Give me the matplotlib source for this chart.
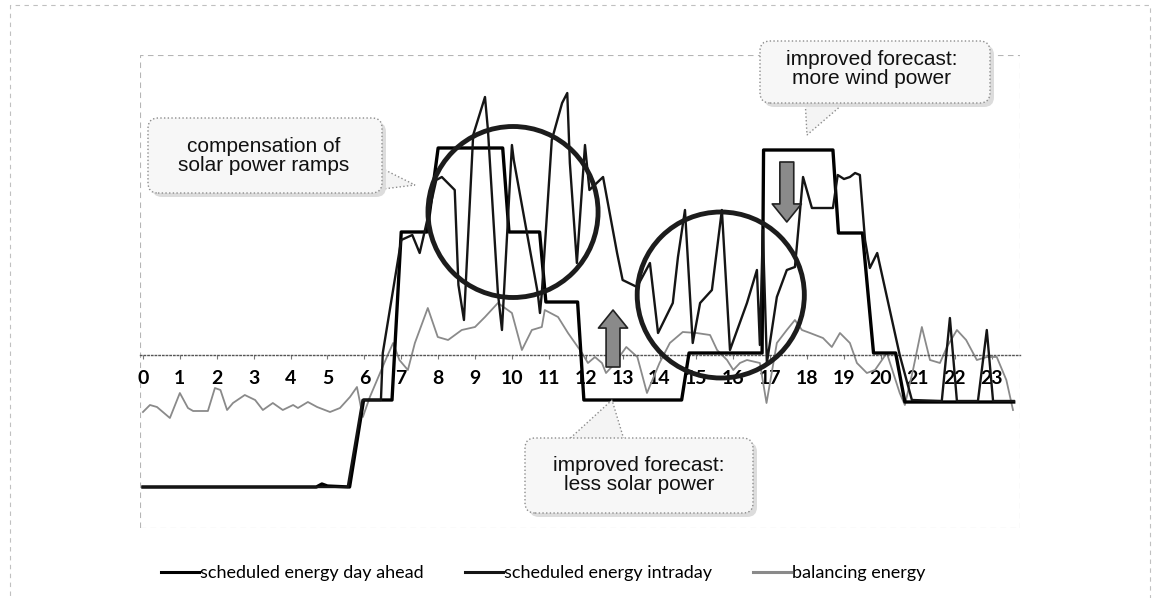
import matplotlib
matplotlib.use("Agg")
import matplotlib.pyplot as plt
from matplotlib.patches import Ellipse, FancyBboxPatch, FancyArrowPatch, Polygon, Rectangle
from matplotlib.transforms import IdentityTransform

# hour axis
hours = list(range(24))
hour_labels = [str(h) for h in hours]

# scheduled energy day ahead (hour, value)
day_ahead_t = [0, 4.7, 4.85, 5.0, 5.6, 5.98, 6.75, 7.0, 7.7, 8.0, 9.75, 9.92,
               10.75, 10.92, 11.78, 11.95, 14.6, 14.8, 16.78, 16.82, 18.7,
               18.85, 19.5, 19.8, 20.4, 20.65, 23.6]
day_ahead_v = [-13.2, -13.2, -12.9, -13.1, -13.2, -4.5, -4.5, 12.3, 12.3, 20.7,
               20.7, 12.3, 12.3, 5.3, 5.3, -4.5, -4.5, 0.2, 0.2, 20.5, 20.5,
               12.2, 12.2, 0.2, 0.2, -4.7, -4.7]

# scheduled energy intraday (hour, value)
intraday_t = [0, 5.55, 5.95, 6.45, 6.5, 7.0, 7.3, 7.5, 7.6, 7.95, 8.1, 8.45,
              8.55, 8.7, 8.95, 9.27, 9.35, 9.62, 9.73, 10.0, 10.05, 10.7,
              10.76, 10.81, 11.08, 11.36, 11.5, 11.57, 11.76, 11.98, 12.1,
              12.47, 12.6, 12.85, 13.0, 13.39, 13.74, 13.96, 14.36, 14.5,
              14.69, 14.9, 15.1, 15.42, 15.69, 15.91, 16.37, 16.64, 16.72,
              16.8, 16.91, 17.18, 17.45, 17.67, 17.72, 17.89, 18.13, 18.7,
              18.83, 19.0, 19.16, 19.3, 19.43, 19.57, 19.7, 19.9, 20.51,
              20.84, 21.65, 21.87, 22.06, 22.63, 22.87, 23.04, 23.6]
intraday_v = [-13.2, -13.2, -4.5, -4.5, 0.2, 11.5, 12.0, 10.2, 11.8, 17.5,
              17.8, 16.5, 7.0, 3.5, 22.0, 25.8, 22.5, 6.2, 2.5, 21.0, 19.5,
              6.2, 4.2, 6.2, 21.5, 25.2, 26.2, 19.2, 9.2, 21.0, 16.5, 17.8,
              15.2, 10.2, 7.5, 6.8, 9.2, 2.2, 5.2, 9.8, 14.5, 1.2, 5.2, 6.5,
              14.5, 0.5, 5.2, 8.5, 1.0, 12.5, -0.8, 5.8, 8.5, 8.8, 10.8, 17.8,
              14.7, 14.7, 18.0, 17.6, 17.8, 18.2, 18.0, 11.5, 8.7, 10.2, 0.0,
              -4.5, -4.6, 3.7, -4.6, -4.6, 2.5, -4.6, -4.6]

# balancing energy (hour, value)
balancing_t = [0.0, 0.19, 0.38, 0.73, 1.0, 1.22, 1.36, 1.76, 1.95, 2.1, 2.28,
               2.44, 2.76, 3.04, 3.25, 3.52, 3.79, 4.07, 4.2, 4.47, 4.72, 5.07,
               5.34, 5.61, 5.8, 5.96, 6.15, 6.61, 6.78, 6.95, 7.18, 7.37, 7.72,
               7.99, 8.27, 8.64, 9.0, 9.27, 9.62, 10.0, 10.27, 10.54, 10.81,
               10.89, 11.25, 11.52, 11.9, 12.06, 12.25, 12.44, 12.55, 12.75,
               13.1, 13.4, 13.66, 14.0, 14.28, 14.63, 15.0, 15.37, 15.56,
               15.83, 16.0, 16.18, 16.37, 16.72, 16.9, 17.18, 17.45, 17.67,
               17.86, 18.08, 18.43, 18.67, 18.89, 19.16, 19.35, 19.62, 19.84,
               20.16, 20.51, 20.65, 20.87, 21.11, 21.33, 21.6, 21.79, 22.06,
               22.31, 22.6, 22.87, 23.14, 23.4, 23.58]
balancing_v = [-5.7, -5.0, -5.2, -6.3, -3.8, -5.3, -5.6, -5.6, -3.3, -3.5,
               -5.5, -4.8, -4.0, -4.5, -5.5, -4.8, -5.5, -5.0, -5.3, -4.7,
               -5.2, -5.7, -5.3, -4.2, -3.2, -6.2, -4.2, -0.2, 1.2, -0.5, -1.5,
               1.2, 4.7, 1.8, 1.5, 2.5, 2.8, 3.8, 5.2, 4.2, 0.5, 2.5, 2.8, 4.5,
               3.8, 2.2, 0.2, -0.8, -0.2, -0.8, -1.8, -1.0, 0.8, -0.2, -3.8,
               -0.8, 1.2, 2.3, 2.2, 2.0, 0.5, -0.5, -1.5, -0.8, -0.5, -0.8,
               -4.8, 1.2, 2.5, 3.5, 2.5, 2.2, 1.7, 0.8, 2.2, 1.2, -0.8, -1.8,
               -1.5, 0.2, -3.8, -5.0, -1.5, 2.8, -0.5, -0.8, 0.8, 2.5, 1.5,
               -0.5, -0.2, -0.2, -2.5, -5.5]

series_labels = ["scheduled energy day ahead", "scheduled energy intraday",
                 "balancing energy"]

W, H = 1165, 598


def fx(x):
    return x / W


def fy(y):
    return 1 - y / H


def callout(fig, box, text, center, wedge):
    """rounded callout box in image pixel coords (y downwards)"""
    x0, y0, x1, y1 = box
    tr = IdentityTransform()
    pts = [(x, H - y) for x, y in wedge]
    fig.patches.append(Polygon(pts, closed=True, transform=tr, fc="#f4f4f4",
                               ec="#8c8c8c", lw=1.0, ls=":", zorder=8))
    fig.patches.append(FancyBboxPatch((x0 + 4, H - y1 - 4), x1 - x0, y1 - y0,
                                      boxstyle="round,pad=0,rounding_size=10",
                                      transform=tr, fc="#dcdcdc", ec="none",
                                      zorder=8))
    fig.patches.append(FancyBboxPatch((x0, H - y1), x1 - x0, y1 - y0,
                                      boxstyle="round,pad=0,rounding_size=10",
                                      transform=tr, fc="#f7f7f7", ec="#8c8c8c",
                                      lw=1.0, ls=":", zorder=9))
    fig.text(fx(center[0]), fy(center[1]), text, ha="center", va="center",
             fontsize=15, family="Liberation Sans", linespacing=1.05,
             color="#111111", zorder=10)


def main():
    fig = plt.figure(figsize=(W / 100, H / 100), dpi=100)
    ax = fig.add_axes([fx(140), fy(528), fx(1020) - fx(140), fy(55) - fy(528)])

    l3, = ax.plot(balancing_t, balancing_v, color="#8a8a8a", lw=1.3, zorder=2)
    l1, = ax.plot(day_ahead_t, day_ahead_v, color="#000000", lw=2.4, zorder=3)
    l2, = ax.plot(intraday_t, intraday_v, color="#151515", lw=1.7, zorder=4)

    ax.set_xlim(-0.08, 23.77)
    ax.set_ylim(-17.3, 30)

    for s in ["top", "left", "right"]:
        ax.spines[s].set_visible(False)
    ax.spines["bottom"].set_position(("data", 0))
    ax.spines["bottom"].set_linestyle(":")
    ax.spines["bottom"].set_color("#555555")
    ax.spines["bottom"].set_linewidth(1.0)
    ax.add_patch(Rectangle((0, 0), 1, 1, transform=ax.transAxes, fill=False,
                           ec="#b5b5b5", lw=0.8, ls=(0, (5, 4)), zorder=1))

    ax.set_xticks(hours)
    ax.set_xticklabels(hour_labels, fontfamily="Lato", fontweight="bold",
                       fontsize=14)
    ax.tick_params(axis="x", length=3, width=0.8, color="#777777", pad=8)
    ax.set_yticks([])

    # circles marking the ramps
    ax.add_patch(Ellipse((10.03, 14.3), 4.61, 17.1, fill=False, ec="#1c1c1c",
                         lw=3.5, zorder=5))
    ax.add_patch(Ellipse((15.66, 6.0), 4.53, 16.6, fill=False, ec="#1c1c1c",
                         lw=3.5, zorder=5))

    # forecast arrows
    style = "simple,head_width=2.1,head_length=1.3,tail_width=1.0"
    ax.add_patch(FancyArrowPatch((12.74, -1.2), (12.74, 4.5), arrowstyle=style,
                                 mutation_scale=10, fc="#8a8a8a", ec="#222222",
                                 lw=1.2, shrinkA=0, shrinkB=0, zorder=6))
    ax.add_patch(FancyArrowPatch((17.45, 19.3), (17.45, 13.3), arrowstyle=style,
                                 mutation_scale=10, fc="#8a8a8a", ec="#222222",
                                 lw=1.2, shrinkA=0, shrinkB=0, zorder=6))

    callout(fig, (148, 118, 382, 193), "compensation of\nsolar power ramps",
            (264, 156), [(375, 165), (415, 185), (375, 190)])
    callout(fig, (760, 41, 990, 103), "improved forecast:\nmore wind power",
            (872, 69), [(805, 98), (807, 135), (850, 98)])
    callout(fig, (525, 438, 753, 513), "improved forecast:\nless solar power",
            (639, 475), [(565, 443), (612, 400), (625, 443)])

    # outer frame of the scanned figure
    fig.patches.append(Rectangle((10, -5), 1140, H, transform=IdentityTransform(),
                                 fill=False, ec="#c0c0c0", lw=0.8, ls=(0, (4, 4))))

    leg = fig.legend([l1, l2, l3], series_labels, loc="center",
                     bbox_to_anchor=(fx(543), fy(573)), ncol=3, frameon=False,
                     prop=dict(family="Lato", size=13), handlelength=2.1,
                     handletextpad=0.05, columnspacing=2.3)
    for line in leg.get_lines():
        line.set_linewidth(2.2)

    fig.savefig("out.png", dpi=100)


if __name__ == "__main__":
    main()
